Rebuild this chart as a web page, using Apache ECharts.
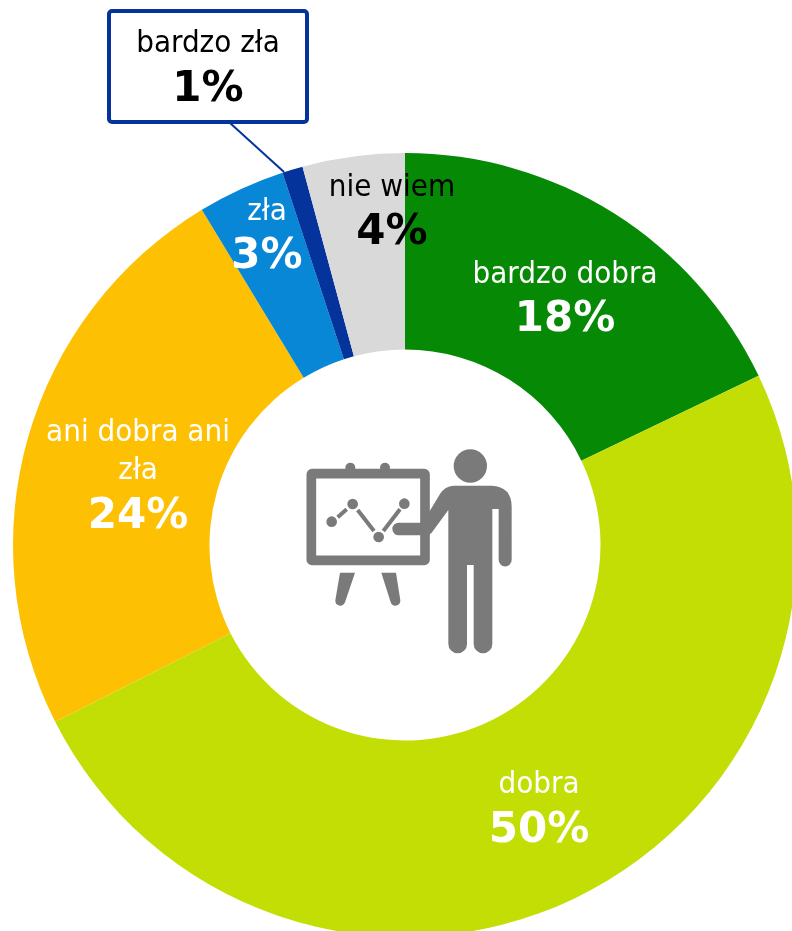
<!DOCTYPE html>
<html lang="pl">
<head>
    <meta charset="UTF-8">
    <title>ocena</title>
    <style>
        html, body { margin: 0; padding: 0; background: #fff; }
        #chart { width: 792px; height: 931px; }
    </style>
    <script src="https://cdn.jsdelivr.net/npm/echarts@6/dist/echarts.min.js"></script>
</head>
<body>
    <div id="chart"></div>
    <script>
        // slice sizes, printed percentages as written on it
        var categories = ['bardzo dobra', 'dobra', 'ani dobra ani\nzła', 'zła', 'bardzo zła', 'nie wiem'];
        var shares = [17.9, 49.65, 23.78, 3.61, 0.85, 4.21];
        var printed = [18, 50, 24, 3, 1, 4];
        var colors = ['#068a06', '#c3de04', '#fdc003', '#0787d6', '#04339c', '#d9d9d9'];
        var textColors = ['#fff', '#fff', '#fff', '#fff', '#000', '#000'];

        // label centres in px
        var labelSpots = [[565, 301.5], [539, 812], [138, 479], [267, 238.5], [208, 66.5], [392, 214.5]];

        var FONT = '"DejaVu Sans Condensed", "DejaVu Sans", sans-serif';
        var ICON_GREY = '#7a7a7a';

        // icon outlines
        echarts.graphic.registerShape('easelLegLeft', echarts.graphic.extendPath(
            'M150 428 L195 428 L165 517 Q160 528 150 527 Q135 526 136 511 Z', {}));
        echarts.graphic.registerShape('easelLegRight', echarts.graphic.extendPath(
            'M274 428 L318 428 L331 511 Q332 526 317 527 Q306 528 302 517 Z', {}));
        echarts.graphic.registerShape('personBody', echarts.graphic.extendPath(
            'M490 167 L605 167 Q665 170 665 230 L665 390 A18 18 0 0 1 626 390 L626 237 L607 237 ' +
            'L607 642 A28 28 0 0 1 551 642 L551 405 L531 405 L531 642 A28 28 0 0 1 475 642 L475 240 ' +
            'L425 308 Q418 316 408 316 L326 316 A19 19 0 0 1 326 278 L398 278 L450 192 Q465 168 490 167 Z', {}));

        var chart = echarts.init(document.getElementById('chart'));

        var pieData = categories.map(function (name, i) {
            var item = {
                name: name,
                value: shares[i],
                itemStyle: { color: colors[i] },
                label: { color: textColors[i] }
            };
            if (name === 'bardzo zła') {
                item.label = {
                    color: textColors[i],
                    backgroundColor: '#fff',
                    borderColor: '#04339c',
                    borderWidth: 4,
                    borderRadius: 1,
                    width: 194,
                    padding: [12, 0, 3, 0]
                };
                item.labelLine = { show: true, lineStyle: { color: '#04339c', width: 2 } };
            }
            return item;
        });

        function iconLine(x1, y1, x2, y2) {
            return { type: 'line', shape: { x1: x1, y1: y1, x2: x2, y2: y2 }, style: { stroke: ICON_GREY, lineWidth: 12 } };
        }
        function iconDot(x, y, r) {
            return { type: 'circle', shape: { cx: x, cy: y, r: r }, style: { fill: ICON_GREY } };
        }

        var option = {
            backgroundColor: '#fff',
            animation: false,
            series: [{
                type: 'pie',
                center: [405, 545],
                radius: [195.5, 392],
                startAngle: 90,
                clockwise: true,
                avoidLabelOverlap: false,
                silent: true,
                data: pieData,
                label: {
                    show: true,
                    position: 'outside',
                    overflow: 'none',
                    align: 'center',
                    fontFamily: FONT,
                    formatter: function (p) {
                        var lines = p.name.split('\n').map(function (s) { return '{n|' + s + '}'; });
                        return lines.join('\n') + '\n{p|' + printed[p.dataIndex] + '%}';
                    },
                    rich: {
                        n: { fontFamily: FONT, fontSize: 31, lineHeight: 38, align: 'center' },
                        p: { fontFamily: '"DejaVu Sans", sans-serif', fontSize: 42, fontWeight: 'bold', lineHeight: 54, align: 'center' }
                    }
                },
                labelLine: { show: false },
                labelLayout: function (params) {
                    var spot = labelSpots[params.dataIndex];
                    var out = { x: spot[0], y: spot[1], align: 'center', verticalAlign: 'middle' };
                    if (params.dataIndex === 4) {
                        out.labelLinePoints = [[230, 123], [284, 172], [284, 172]];
                    }
                    return out;
                }
            }],
            graphic: [{
                // presenter icon, drawn in a 3x local grid
                type: 'group',
                x: 290,
                y: 430,
                scaleX: 1 / 3,
                scaleY: 1 / 3,
                silent: true,
                children: [
                    iconDot(181, 113, 15),
                    iconDot(285, 113, 15),
                    {
                        type: 'rect',
                        shape: { x: 64, y: 131, width: 341, height: 260, r: 2 },
                        style: { fill: 'none', stroke: ICON_GREY, lineWidth: 29, lineJoin: 'round' }
                    },
                    iconDot(125, 275, 16),
                    iconDot(188, 222, 16),
                    iconDot(266, 321, 16),
                    iconDot(343, 221, 16),
                    iconLine(143, 262, 170, 238),
                    iconLine(203, 240, 252, 303),
                    iconLine(280, 303, 330, 238),
                    { type: 'easelLegLeft', style: { fill: ICON_GREY } },
                    { type: 'easelLegRight', style: { fill: ICON_GREY } },
                    iconDot(541, 108, 50),
                    { type: 'personBody', style: { fill: ICON_GREY } }
                ]
            }]
        };

        chart.setOption(option);
    </script>
</body>
</html>
